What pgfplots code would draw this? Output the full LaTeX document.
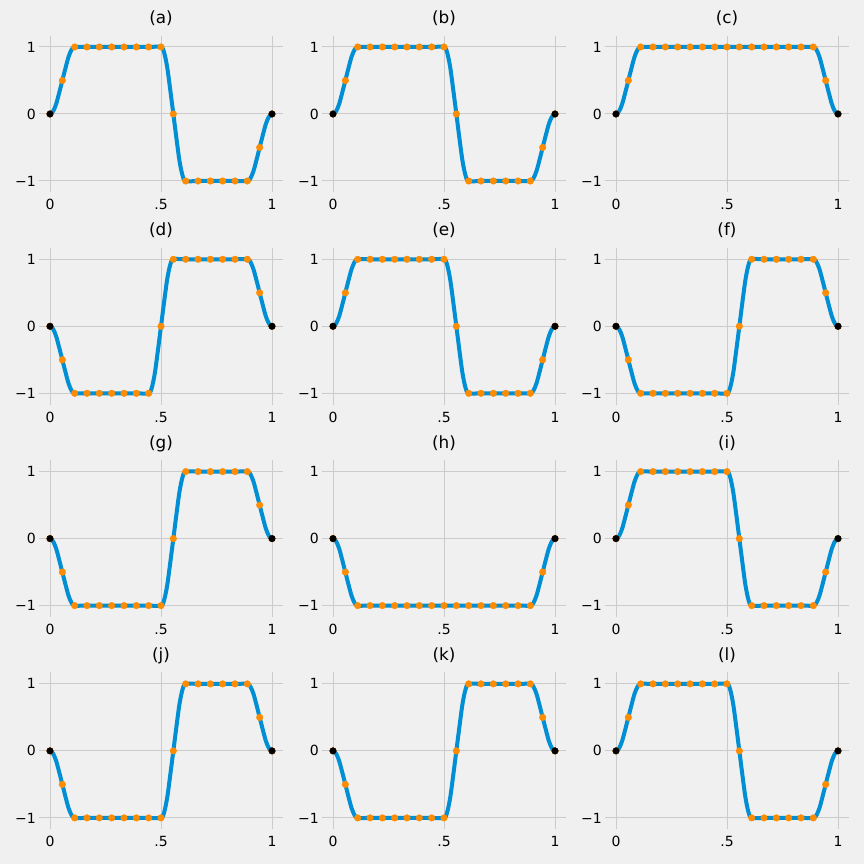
\documentclass[border=0pt]{standalone}
\usepackage{fontspec}
\setmainfont{DejaVu Sans}
\usepackage{pgfplots}
\usepackage{pgfplotstable}
\pgfplotsset{compat=1.18}
\definecolor{bg}{HTML}{F0F0F0}
\definecolor{gridc}{HTML}{CBCBCB}
\definecolor{lineblue}{HTML}{008FD5}
\definecolor{dotorange}{HTML}{FF8C00}

% sample points (dots) of each panel
\pgfplotstableread{
x      a    b    c    d    e    f    g    h    i    j    k    l
0      0    0    0    0    0    0    0    0    0    0    0    0
0.0556 0.5  0.5  0.5  -0.5 0.5  -0.5 -0.5 -0.5 0.5  -0.5 -0.5 0.5
0.1111 1    1    1    -1   1    -1   -1   -1   1    -1   -1   1
0.1667 1    1    1    -1   1    -1   -1   -1   1    -1   -1   1
0.2222 1    1    1    -1   1    -1   -1   -1   1    -1   -1   1
0.2778 1    1    1    -1   1    -1   -1   -1   1    -1   -1   1
0.3333 1    1    1    -1   1    -1   -1   -1   1    -1   -1   1
0.3889 1    1    1    -1   1    -1   -1   -1   1    -1   -1   1
0.4444 1    1    1    -1   1    -1   -1   -1   1    -1   -1   1
0.5    1    1    1    0    1    -1   -1   -1   1    -1   -1   1
0.5556 0    0    1    1    0    0    0    -1   0    0    0    0
0.6111 -1   -1   1    1    -1   1    1    -1   -1   1    1    -1
0.6667 -1   -1   1    1    -1   1    1    -1   -1   1    1    -1
0.7222 -1   -1   1    1    -1   1    1    -1   -1   1    1    -1
0.7778 -1   -1   1    1    -1   1    1    -1   -1   1    1    -1
0.8333 -1   -1   1    1    -1   1    1    -1   -1   1    1    -1
0.8889 -1   -1   1    1    -1   1    1    -1   -1   1    1    -1
0.9444 -0.5 -0.5 0.5  0.5  -0.5 0.5  0.5  -0.5 -0.5 0.5  0.5  -0.5
1      0    0    0    0    0    0    0    0    0    0    0    0
}\dots

% the blue curve (panels a b e i l = A, f g j k = G, c = C, h = H)
\pgfplotstableread{
x      A     G     C     H
0      0     0     0     0
0.0139 0.04  -0.04 0.04  -0.04
0.0278 0.15  -0.15 0.15  -0.15
0.0417 0.32  -0.32 0.32  -0.32
0.0556 0.5   -0.5  0.5   -0.5
0.0694 0.68  -0.68 0.68  -0.68
0.0833 0.85  -0.85 0.85  -0.85
0.0972 0.96  -0.96 0.96  -0.96
0.1111 1     -1    1     -1
0.1667 1     -1    1     -1
0.2222 1     -1    1     -1
0.2778 1     -1    1     -1
0.3333 1     -1    1     -1
0.3889 1     -1    1     -1
0.4444 1     -1    1     -1
0.5    1     -1    1     -1
0.5139 0.92  -0.92 1     -1
0.5278 0.70  -0.70 1     -1
0.5417 0.36  -0.36 1     -1
0.5556 0     0     1     -1
0.5694 -0.36 0.36  1     -1
0.5833 -0.70 0.70  1     -1
0.5972 -0.92 0.92  1     -1
0.6111 -1    1     1     -1
0.6667 -1    1     1     -1
0.7222 -1    1     1     -1
0.7778 -1    1     1     -1
0.8333 -1    1     1     -1
0.8889 -1    1     1     -1
0.9028 -0.96 0.96  0.96  -0.96
0.9167 -0.85 0.85  0.85  -0.85
0.9306 -0.68 0.68  0.68  -0.68
0.9444 -0.5  0.5   0.5   -0.5
0.9583 -0.32 0.32  0.32  -0.32
0.9722 -0.15 0.15  0.15  -0.15
0.9861 -0.04 0.04  0.04  -0.04
1      0     0     0     0
}\curveAG

% curve of panel d
\pgfplotstableread{
x      D
0      0
0.0139 -0.04
0.0278 -0.15
0.0417 -0.32
0.0556 -0.5
0.0694 -0.68
0.0833 -0.85
0.0972 -0.96
0.1111 -1
0.1667 -1
0.2222 -1
0.2778 -1
0.3333 -1
0.3889 -1
0.4444 -1
0.4583 -0.92
0.4722 -0.70
0.4861 -0.36
0.5    0
0.5139 0.36
0.5278 0.70
0.5417 0.92
0.5556 1
0.6111 1
0.6667 1
0.7222 1
0.7778 1
0.8333 1
0.8889 1
0.9028 0.96
0.9167 0.85
0.9306 0.68
0.9444 0.5
0.9583 0.32
0.9722 0.15
0.9861 0.04
1      0
}\curveD

\pgfplotsset{
  panel/.style={
    width=244.2pt, height=156.8pt, scale only axis, anchor=south west,
    xmin=-0.05, xmax=1.05, ymin=-1.17, ymax=1.17,
    axis line style={draw=none}, major tick length=0pt,
    xtick={0,0.5,1}, xticklabels={0,.5,1},
    ytick={-1,0,1}, yticklabels={−1,0,1},
    grid=major, major grid style={gridc, line width=1pt},
    tick label style={font=\fontsize{14}{16}\selectfont, text=black},
    xticklabel style={anchor=north, inner sep=0pt, yshift=-7pt},
    yticklabel style={anchor=east, inner sep=0pt, xshift=-3pt},
    title style={font=\fontsize{16.8}{20}\selectfont, anchor=base, at={(0.5,1)}, yshift=6pt, inner sep=0pt},
    clip=false,
  }
}
% #1 position, #2 curve table, #3 curve column, #4 dots column / title
\newcommand\panel[4]{%
  \begin{axis}[panel, at={(#1)}, title={(#4)}]
    \addplot[lineblue, line width=4pt, smooth, tension=0.5, no marks, line join=round, line cap=round] table[x=x, y=#3] {#2};
    \addplot[only marks, mark=*, mark size=3.3pt, color=dotorange] table[x=x, y=#4] {\dots};
    \addplot[only marks, mark=*, mark size=3.3pt, color=black] coordinates {(0,0) (1,0)};
  \end{axis}}

\begin{document}
\begin{tikzpicture}
\fill[bg] (0,0) rectangle (864pt,864pt);
\path[use as bounding box] (0,0) rectangle (864pt,864pt);
\panel{38.9pt,671.6pt}{\curveAG}{A}{a}
\panel{321.9pt,671.6pt}{\curveAG}{A}{b}
\panel{604.9pt,671.6pt}{\curveAG}{C}{c}
\panel{38.9pt,459.3pt}{\curveD}{D}{d}
\panel{321.9pt,459.3pt}{\curveAG}{A}{e}
\panel{604.9pt,459.3pt}{\curveAG}{G}{f}
\panel{38.9pt,247pt}{\curveAG}{G}{g}
\panel{321.9pt,247pt}{\curveAG}{H}{h}
\panel{604.9pt,247pt}{\curveAG}{A}{i}
\panel{38.9pt,34.7pt}{\curveAG}{G}{j}
\panel{321.9pt,34.7pt}{\curveAG}{G}{k}
\panel{604.9pt,34.7pt}{\curveAG}{A}{l}
\end{tikzpicture}
\end{document}
